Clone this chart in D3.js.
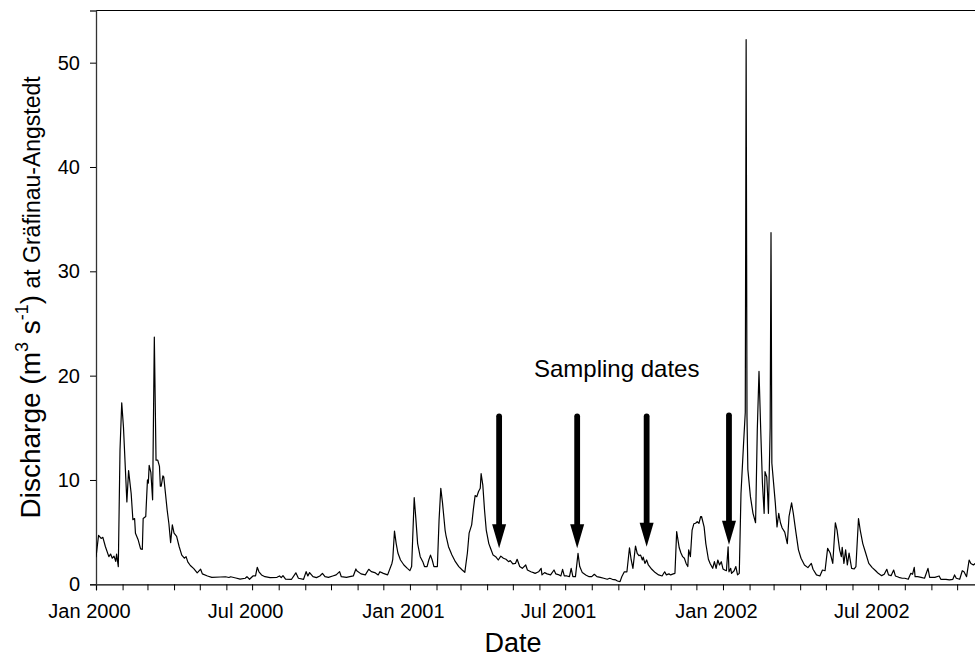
<!DOCTYPE html>
<html>
<head>
<meta charset="utf-8">
<script src="https://cdn.jsdelivr.net/npm/d3@7"></script>
<style>
  html, body { margin: 0; padding: 0; background: #fff; }
  svg { display: block; font-family: Arial, "Liberation Sans", Helvetica, sans-serif; }
</style>
</head>
<body>
<svg id="chart" width="975" height="657"></svg>
<script>
// ---- Data ----
const dates = [
"2000-01-01","2000-01-04","2000-01-07","2000-01-09","2000-01-12","2000-01-16","2000-01-18","2000-01-20","2000-01-22","2000-01-24",
"2000-01-25","2000-01-27","2000-01-29","2000-01-31","2000-02-02","2000-02-06","2000-02-08","2000-02-11","2000-02-13","2000-02-15",
"2000-02-16","2000-02-19","2000-02-22","2000-02-24","2000-02-25","2000-02-28","2000-03-01","2000-03-02","2000-03-03","2000-03-05",
"2000-03-07","2000-03-09","2000-03-11","2000-03-13","2000-03-15","2000-03-16","2000-03-17","2000-03-19","2000-03-20","2000-03-22",
"2000-03-24","2000-03-26","2000-03-28","2000-03-30","2000-04-01","2000-04-04","2000-04-07","2000-04-10","2000-04-13","2000-04-15",
"2000-04-17","2000-04-20","2000-04-24","2000-04-28","2000-05-02","2000-05-04","2000-05-10","2000-05-15","2000-05-25","2000-05-31",
"2000-06-04","2000-06-06","2000-06-12","2000-06-17","2000-06-23","2000-06-25","2000-06-28","2000-07-02","2000-07-05","2000-07-07",
"2000-07-09","2000-07-12","2000-07-16","2000-07-22","2000-07-30","2000-08-02","2000-08-04","2000-08-06","2000-08-09","2000-08-16",
"2000-08-21","2000-08-24","2000-08-30","2000-09-02","2000-09-04","2000-09-06","2000-09-10","2000-09-14","2000-09-18","2000-09-21",
"2000-09-24","2000-09-28","2000-10-03","2000-10-07","2000-10-11","2000-10-13","2000-10-19","2000-10-27","2000-10-30","2000-10-31",
"2000-11-05","2000-11-10","2000-11-14","2000-11-17","2000-11-21","2000-11-25","2000-11-27","2000-12-01","2000-12-06","2000-12-11",
"2000-12-12","2000-12-14","2000-12-16","2000-12-18","2000-12-21","2000-12-25","2000-12-29",
"2001-01-01","2001-01-03","2001-01-04","2001-01-06","2001-01-08","2001-01-10","2001-01-13","2001-01-16","2001-01-18","2001-01-21",
"2001-01-23","2001-01-25","2001-01-27","2001-01-29","2001-02-02","2001-02-04","2001-02-06","2001-02-08","2001-02-11","2001-02-12",
"2001-02-15","2001-02-19","2001-02-23","2001-02-27","2001-03-03","2001-03-06","2001-03-09","2001-03-11","2001-03-14","2001-03-16",
"2001-03-18","2001-03-20","2001-03-22","2001-03-24","2001-03-25","2001-03-27","2001-03-29","2001-03-31","2001-04-03","2001-04-05",
"2001-04-08","2001-04-11","2001-04-14","2001-04-17","2001-04-20","2001-04-23","2001-04-26","2001-04-28","2001-05-01","2001-05-04",
"2001-05-06","2001-05-09","2001-05-12","2001-05-16","2001-05-18","2001-05-22","2001-05-25","2001-05-27","2001-05-31","2001-06-03",
"2001-06-04","2001-06-07","2001-06-10","2001-06-14","2001-06-18","2001-06-20","2001-06-24","2001-06-26","2001-06-28","2001-06-30",
"2001-07-03","2001-07-06","2001-07-08","2001-07-10","2001-07-13","2001-07-16","2001-07-18","2001-07-21","2001-07-25","2001-07-29",
"2001-08-01","2001-08-04","2001-08-07","2001-08-11","2001-08-15","2001-08-19","2001-08-22","2001-08-25","2001-08-29","2001-08-31",
"2001-09-03","2001-09-05","2001-09-08","2001-09-11","2001-09-14","2001-09-16","2001-09-18","2001-09-21","2001-09-23","2001-09-25",
"2001-09-27","2001-09-29","2001-09-30","2001-10-02","2001-10-04","2001-10-06","2001-10-10","2001-10-14","2001-10-18","2001-10-22",
"2001-10-25","2001-10-27","2001-10-30","2001-11-01","2001-11-04","2001-11-06","2001-11-08","2001-11-11","2001-11-13","2001-11-15",
"2001-11-17","2001-11-19","2001-11-21","2001-11-22","2001-11-24","2001-11-26","2001-11-28","2001-11-30","2001-12-02","2001-12-04",
"2001-12-06","2001-12-07","2001-12-10","2001-12-12","2001-12-15","2001-12-17","2001-12-20","2001-12-22","2001-12-24","2001-12-26",
"2001-12-28","2001-12-30",
"2002-01-01","2002-01-03","2002-01-05","2002-01-07","2002-01-08","2002-01-10","2002-01-11","2002-01-14","2002-01-16","2002-01-18",
"2002-01-20","2002-01-22","2002-01-25","2002-01-27","2002-01-28","2002-01-29","2002-01-30","2002-02-02","2002-02-05","2002-02-08",
"2002-02-10","2002-02-12","2002-02-14","2002-02-16","2002-02-18","2002-02-19","2002-02-21","2002-02-22","2002-02-23","2002-02-25",
"2002-02-26","2002-02-27","2002-03-03","2002-03-05","2002-03-07","2002-03-09","2002-03-11","2002-03-14","2002-03-17","2002-03-19",
"2002-03-22","2002-03-24","2002-03-27","2002-03-30","2002-04-02","2002-04-06","2002-04-10","2002-04-14","2002-04-16","2002-04-20",
"2002-04-24","2002-04-27","2002-04-30","2002-05-03","2002-05-06","2002-05-09","2002-05-12","2002-05-14","2002-05-17","2002-05-19",
"2002-05-20","2002-05-22","2002-05-24","2002-05-26","2002-05-28","2002-05-30","2002-05-31","2002-06-03","2002-06-05","2002-06-08",
"2002-06-10","2002-06-13","2002-06-16","2002-06-20","2002-06-24","2002-06-28","2002-07-01","2002-07-05","2002-07-08","2002-07-11",
"2002-07-13","2002-07-16","2002-07-19","2002-07-21","2002-07-25","2002-07-29","2002-08-01","2002-08-05","2002-08-08","2002-08-10",
"2002-08-12","2002-08-13","2002-08-16","2002-08-20","2002-08-24","2002-08-28","2002-08-30","2002-09-05","2002-09-10","2002-09-12",
"2002-09-18","2002-09-22","2002-09-26","2002-09-28","2002-09-30","2002-10-04","2002-10-07","2002-10-09","2002-10-12","2002-10-15",
"2002-10-17","2002-10-20","2002-10-22"
];
const discharge = [
2.6,4.7,4.4,4.5,3.6,2.65,2.9,2.5,2.7,2.2,
2.9,1.7,12.9,17.4,15.1,7.9,10.9,8.7,6.2,6.3,
4.9,4.3,3.4,3.35,6.3,6.5,10.0,9.7,11.4,10.7,
8.1,23.7,11.9,11.9,11.3,9.4,9.4,10.4,10.3,8.7,
7.1,5.8,4.0,5.7,4.9,4.6,3.6,2.8,2.5,2.65,
2.15,1.8,1.5,1.1,1.45,1.0,0.8,0.67,0.7,0.72,
0.65,0.72,0.6,0.5,0.58,0.73,0.48,0.8,0.8,1.63,
1.2,0.9,0.73,0.64,0.67,0.8,0.64,0.83,0.5,0.48,
1.1,0.58,0.48,1.21,0.8,1.12,0.73,0.64,0.8,1.05,
0.73,0.67,0.8,0.9,1.21,0.73,0.67,0.8,1.47,1.3,
1.0,0.9,1.44,1.21,1.12,0.9,1.21,1.05,0.9,2.0,
2.4,5.1,3.9,3.0,2.33,1.85,1.53,
1.31,1.7,3.9,8.3,6.2,3.9,2.65,2.17,1.7,1.7,
2.33,2.8,2.33,1.7,1.7,6.2,9.2,7.8,5.2,4.7,
3.6,2.8,2.17,1.7,1.37,1.15,3.0,4.9,5.7,7.2,
8.5,8.4,8.9,9.2,10.6,9.5,7.1,5.2,3.9,3.45,
2.8,2.65,2.33,2.7,2.5,2.4,2.17,2.27,1.95,2.0,
2.4,1.7,1.53,1.85,1.37,1.2,1.12,1.05,1.2,1.53,
0.9,1.12,1.0,0.9,1.37,1.0,0.9,0.8,1.44,0.8,
0.8,0.73,1.53,0.73,0.73,2.97,1.7,1.12,0.9,0.73,
0.73,0.96,0.73,0.67,0.58,0.48,0.58,0.48,0.42,0.32,
0.26,0.73,1.2,1.2,3.5,2.33,1.53,3.67,2.97,2.75,
2.8,2.33,2.6,2.0,2.33,1.85,1.44,1.12,0.9,0.8,
1.2,0.9,1.0,0.9,1.0,1.05,5.05,3.5,3.0,2.65,
2.5,2.0,1.7,3.3,2.65,5.2,5.8,5.85,6.0,5.85,
6.5,6.5,5.5,3.9,2.4,2.0,1.53,2.17,1.53,2.33,
1.85,2.17,
1.47,1.37,1.3,3.6,1.2,1.53,1.05,1.3,1.7,0.9,
1.05,8.7,13.5,16.5,52.2,16.0,11.0,8.4,6.8,5.9,
14.8,20.4,14.8,9.7,6.8,10.8,10.3,8.7,6.8,15.0,
33.7,11.6,7.8,5.5,6.8,5.9,5.4,5.0,3.9,6.5,
7.8,6.8,5.0,3.3,2.5,1.85,1.6,2.0,1.44,0.9,
0.8,1.37,1.3,3.45,3.0,2.0,5.9,5.2,3.3,2.65,
3.55,2.0,3.3,1.85,3.0,2.0,1.53,1.47,1.7,6.3,
5.2,3.9,3.1,2.0,1.6,1.3,1.05,0.83,0.96,1.44,
0.9,0.83,1.37,0.8,0.67,0.58,0.58,0.48,1.05,0.96,
1.63,0.73,0.73,0.67,0.58,1.53,0.67,0.67,0.8,0.48,
0.48,0.42,0.48,0.9,0.58,0.48,1.3,1.2,0.73,2.33,
2.0,1.85,2.0
];
const samplingDates = ["2001-04-15","2001-07-15","2001-10-04","2002-01-08"];
const arrowTops = [16.1, 16.1, 16.1, 16.2];
const arrowTips = [3.45, 3.45, 3.6, 3.8];
const yTicks = [0, 10, 20, 30, 40, 50];
const xDomain = ["2000-01-01", "2002-10-23"];
const yDomain = [0, 55];

// ---- Drawing ----
const parse = d3.timeParse("%Y-%m-%d");
const data = dates.map((d, i) => ({ date: parse(d), q: discharge[i] }));

const svg = d3.select("#chart");
const mLeft = 96, mRight = 976, mTop = 10.5, mBottom = 584.3;

const x = d3.scaleTime().domain(xDomain.map(parse)).range([mLeft, mRight]);
const y = d3.scaleLinear().domain(yDomain).range([mBottom, mTop]);

svg.append("defs").append("clipPath").attr("id", "clip")
  .append("rect").attr("x", mLeft).attr("y", mTop).attr("width", mRight - mLeft).attr("height", mBottom - mTop);

// top border
svg.append("line").attr("x1", mLeft).attr("x2", 975).attr("y1", mTop).attr("y2", mTop)
  .attr("stroke", "#000").attr("stroke-width", 1.2);

// X axis
const fmt = d3.timeFormat("%b %Y");
const xAxis = d3.axisBottom(x)
  .ticks(d3.timeMonth.every(1))
  .tickSize(6)
  .tickPadding(14)
  .tickFormat(d => (d.getMonth() === 0 || d.getMonth() === 6) ? fmt(d) : "");
const gx = svg.append("g").attr("transform", `translate(0,${mBottom})`).call(xAxis);
gx.select(".domain").attr("stroke", "#000").attr("stroke-width", 1.2);
gx.selectAll(".tick line").attr("stroke", "#000").attr("stroke-width", 1);
gx.selectAll(".tick text").attr("font-size", 20).attr("fill", "#000")
  .attr("font-family", "Arial, 'Liberation Sans', sans-serif").attr("dx", -7);

// Y axis
const yAxis = d3.axisLeft(y).tickValues(yTicks).tickSize(6).tickPadding(10);
const gy = svg.append("g").attr("transform", `translate(${mLeft},0)`).call(yAxis);
gy.select(".domain").attr("stroke", "#333").attr("stroke-width", 1.3);
gy.selectAll(".tick line").attr("stroke", "#000").attr("stroke-width", 1);
gy.selectAll(".tick text").attr("font-size", 20).attr("fill", "#000")
  .attr("font-family", "Arial, 'Liberation Sans', sans-serif");

// Discharge line
const line = d3.line().x(d => x(d.date)).y(d => y(d.q));
svg.append("path").datum(data)
  .attr("clip-path", "url(#clip)")
  .attr("fill", "none").attr("stroke", "#000").attr("stroke-width", 1.2)
  .attr("stroke-linejoin", "round")
  .attr("d", line);

// Sampling arrows
samplingDates.forEach((s, i) => {
  const ax = x(parse(s));
  const yTop = y(arrowTops[i]);
  const yTip = y(arrowTips[i]);
  const headLen = 24, headHalf = 7;
  svg.append("line")
    .attr("x1", ax).attr("x2", ax).attr("y1", yTop).attr("y2", yTip - headLen + 2)
    .attr("stroke", "#000").attr("stroke-width", 5.8).attr("stroke-linecap", "round");
  svg.append("path")
    .attr("d", `M${ax - headHalf},${yTip - headLen} L${ax + headHalf},${yTip - headLen} L${ax},${yTip} Z`)
    .attr("fill", "#000");
});

svg.append("text").attr("x", 534).attr("y", 377)
  .attr("font-size", 24).attr("fill", "#000").text("Sampling dates");

// Axis titles
svg.append("text").attr("x", 513).attr("y", 651.5).attr("text-anchor", "middle")
  .attr("font-size", 27).attr("fill", "#000").text("Date");

const yt = svg.append("text")
  .attr("transform", `translate(40,${(mTop + mBottom) / 2}) rotate(-90)`)
  .attr("text-anchor", "middle").attr("fill", "#000").attr("font-size", 28);
yt.append("tspan").text("Discharge (m");
yt.append("tspan").attr("font-size", 18).attr("dy", -12).text("3");
yt.append("tspan").attr("dy", 12).text(" s");
yt.append("tspan").attr("font-size", 18).attr("dy", -12).text("-1");
yt.append("tspan").attr("dy", 12).text(")");
yt.append("tspan").attr("font-size", 23).text(" at Gräfinau-Angstedt");
</script>
</body>
</html>
